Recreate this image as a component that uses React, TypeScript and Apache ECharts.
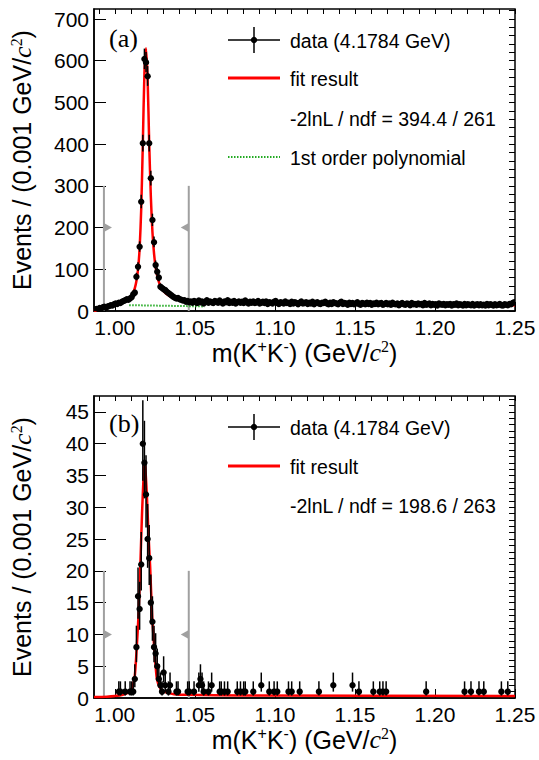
import React, { useEffect, useRef } from "react";
import * as echarts from "echarts";

// ---------- binning ----------
const binStart = 0.987;
const binWidth = 0.001;
const xMin = 0.987;
const xMax = 1.25;

// ---------- axis ticks ----------
const majorX = [1.0, 1.05, 1.1, 1.15, 1.2, 1.25];
const minorX = [0.99, 1.0, 1.01, 1.02, 1.03, 1.04, 1.05, 1.06, 1.07, 1.08, 1.09, 1.1, 1.11, 1.12, 1.13, 1.14, 1.15, 1.16, 1.17, 1.18, 1.19, 1.2, 1.21, 1.22, 1.23, 1.24, 1.25];
const majorYA = [0, 100, 200, 300, 400, 500, 600, 700];
const minorYA = [0, 20, 40, 60, 80, 100, 120, 140, 160, 180, 200, 220, 240, 260, 280, 300, 320, 340, 360, 380, 400, 420, 440, 460, 480, 500, 520, 540, 560, 580, 600, 620, 640, 660, 680, 700, 720];
const majorYB = [0, 5, 10, 15, 20, 25, 30, 35, 40, 45];
const minorYB = [0, 1, 2, 3, 4, 5, 6, 7, 8, 9, 10, 11, 12, 13, 14, 15, 16, 17, 18, 19, 20, 21, 22, 23, 24, 25, 26, 27, 28, 29, 30, 31, 32, 33, 34, 35, 36, 37, 38, 39, 40, 41, 42, 43, 44, 45, 46, 47];
const yMaxA = 724;
const yMaxB = 47.5;

// ---------- panel (a) data: counts per 1 MeV bin ----------
const countsA = [
  3, 5, 4, 7, 6, 9, 10, 8, 11, 12, 14, 13, 16, 18, 17, 20, 19, 22, 24, 26, 28, 27, 30, 33, 40, 44,
  82, 106, 154, 262, 402, 604, 596, 563, 402, 318, 218, 165, 110, 94, 80,
  58, 55, 52, 50, 46, 43, 40, 37, 34, 32, 30, 31, 28, 27, 25, 26, 22, 24, 21, 23,
  20, 24, 22, 19, 25, 21, 23, 18, 22, 26, 20, 23, 21, 19, 24, 22, 20, 25, 21, 18,
  23, 21, 26, 19, 22, 20, 24, 18, 21, 23, 20, 22, 19, 25, 21, 18, 22, 20, 23, 19,
  21, 24, 18, 20, 22, 19, 23, 17, 21, 20, 18, 22, 24, 19, 17, 21, 20, 18, 23, 19,
  20, 17, 22, 18, 21, 19, 16, 20, 23, 18, 19, 21, 17, 20, 18, 22, 16, 19, 21, 18,
  17, 20, 19, 22, 18, 16, 20, 17, 21, 19, 18, 16, 20, 22, 17, 19, 18, 15, 20, 17,
  19, 16, 18, 21, 17, 15, 19, 18, 16, 20, 17, 19, 15, 18, 17, 20, 16, 18, 19, 15,
  17, 19, 16, 18, 15, 20, 17, 16, 18, 14, 17, 19, 16, 15, 18, 17, 14, 19, 16, 17,
  15, 18, 16, 17, 14, 19, 15, 16, 18, 14, 17, 15, 16, 13, 18, 16, 15, 17, 14, 16,
  15, 17, 13, 16, 15, 18, 14, 16, 15, 13, 17, 14, 16, 15, 14, 17, 13, 15, 16, 14,
  16, 14, 15, 13, 17, 14, 16, 15, 13, 16, 14, 15, 17, 14, 13, 16, 15, 14, 17, 16, 19, 21,
];

// fit result (a): mass, events
const fitMassA = [0.987, 0.989, 0.992, 0.995, 0.998, 1.001, 1.004, 1.007, 1.009, 1.011, 1.0125, 1.0135, 1.0145, 1.0155, 1.0165, 1.0175, 1.0185, 1.0195, 1.0205, 1.0215, 1.0225, 1.0235, 1.0245, 1.0255, 1.027, 1.029, 1.031, 1.034, 1.038, 1.043, 1.05, 1.06, 1.08, 1.1, 1.15, 1.2, 1.25];
const fitValA = [0, 3, 6, 9, 12, 15, 19, 24, 30, 40, 55, 72, 100, 150, 245, 400, 570, 630, 555, 400, 275, 190, 138, 105, 76, 56, 45, 36, 29, 25, 22, 20, 18.5, 17.5, 16, 14.5, 13.5];

// 1st order polynomial background (a)
const polyMassA = [1.009, 1.056];
const polyValA = [14, 11];

// ---------- panel (b) data: non-empty bins ----------
const binsB = [15, 16, 19, 22, 23, 24, 25, 26, 27, 28, 29, 30, 31, 32, 33, 34, 35, 36, 37, 38, 39, 40, 41, 42, 43, 44, 46, 47, 51, 52, 58, 59, 62, 65, 66, 67, 68, 71, 73, 78, 79, 81, 83, 89, 91, 93, 94, 99, 104, 109, 112, 114, 121, 123, 128, 140, 149, 161, 165, 174, 178, 180, 182, 207, 231, 235, 240, 243, 254, 258];
const countsB = [1, 1, 1, 1, 1, 1, 3, 8, 16, 14, 21, 40, 37, 32, 25, 22, 15, 12, 8, 7, 5, 3, 2, 1, 4, 2, 1, 2, 1, 1, 1, 1, 1, 2, 3, 2, 1, 1, 2, 1, 1, 1, 1, 1, 1, 1, 1, 1, 2, 1, 1, 1, 1, 1, 1, 1, 2, 2, 1, 1, 1, 1, 1, 1, 1, 1, 1, 1, 1, 1];

const fitMassB = [0.987, 0.995, 1.0, 1.005, 1.008, 1.01, 1.0115, 1.0125, 1.0136, 1.0148, 1.0159, 1.017, 1.018, 1.0185, 1.019, 1.02, 1.021, 1.0221, 1.0233, 1.0246, 1.0255, 1.0263, 1.028, 1.03, 1.033, 1.037, 1.045, 1.08, 1.25];
const fitValB = [0.15, 0.2, 0.3, 0.5, 0.8, 1.2, 2.2, 3.5, 7.5, 13, 20.5, 29, 35, 36.8, 36.3, 32, 26, 20.5, 13, 8, 5, 3, 1.7, 1.1, 0.8, 0.6, 0.5, 0.4, 0.3];

// signal window cuts
const cutMass = [0.9932, 1.0462];
const cutDir = [1, -1];
const cutTopA = 300;
const cutArrowA = 200;
const cutTopB = 20;
const cutArrowB = 10;

const SANS = '"Liberation Sans", Arial, Helvetica, sans-serif';
const SERIF = '"Liberation Serif", "Times New Roman", serif';

function poissonBand(n: number): [number, number] {
  const s = Math.sqrt(n + 0.25);
  return [n + 0.5 - s, n + 0.5 + s];
}

const dataA = countsA.map((n, i) => {
  const [lo, hi] = poissonBand(n);
  return [binStart + binWidth * (i + 0.5), n, lo, hi];
});
const dataB = binsB.map((b, k) => {
  const n = countsB[k];
  const [lo, hi] = poissonBand(n);
  return [binStart + binWidth * (b + 0.5), n, lo, hi];
});

function renderPoint(params: any, api: any) {
  const x = api.value(0);
  const y = api.value(1);
  const lo = api.value(2);
  const hi = api.value(3);
  const c = api.coord([x, y]);
  const cl = api.coord([x, lo]);
  const ch = api.coord([x, hi]);
  const xl = api.coord([x - binWidth / 2, y]);
  const xr = api.coord([x + binWidth / 2, y]);
  return {
    type: "group",
    children: [
      { type: "line", shape: { x1: c[0], y1: cl[1], x2: c[0], y2: ch[1] }, style: { stroke: "#000", lineWidth: 1.5 } },
      { type: "line", shape: { x1: xl[0], y1: c[1], x2: xr[0], y2: c[1] }, style: { stroke: "#000", lineWidth: 1.5 } },
      { type: "circle", shape: { cx: c[0], cy: c[1], r: 3.2 }, style: { fill: "#000" } },
    ],
  };
}

function renderCut(params: any, api: any) {
  const x = api.value(0);
  const top = api.value(1);
  const arrowY = api.value(2);
  const dir = api.value(3);
  const p0 = api.coord([x, 0]);
  const p1 = api.coord([x, top]);
  const pa = api.coord([x, arrowY]);
  return {
    type: "group",
    children: [
      { type: "line", shape: { x1: p0[0], y1: p0[1], x2: p1[0], y2: p1[1] }, style: { stroke: "#a0a0a0", lineWidth: 2 } },
      {
        type: "polygon",
        shape: { points: [[pa[0], pa[1] - 4.5], [pa[0] + dir * 8, pa[1]], [pa[0], pa[1] + 4.5]] },
        style: { fill: "#a0a0a0" },
      },
    ],
  };
}

const TITLE_SIZE = 25;
const axisTitleRich = {
  sup: { fontSize: 16, fontFamily: SANS, color: "#000", verticalAlign: "top", padding: [0, 0, 12, 0] },
  it: { fontSize: TITLE_SIZE + 1, fontFamily: SERIF, fontStyle: "italic", color: "#000" },
  sup2: { fontSize: 16, fontFamily: SERIF, color: "#000", verticalAlign: "top", padding: [0, 0, 12, 0] },
};

function xAxes(gridIndex: number) {
  return [
    {
      type: "value",
      gridIndex,
      min: xMin,
      max: xMax,
      axisLine: { show: true, onZero: false, lineStyle: { color: "#000", width: 1.5 } },
      axisTick: { show: true, inside: true, length: 9, customValues: majorX, lineStyle: { color: "#000", width: 1 } },
      axisLabel: {
        show: true,
        customValues: majorX,
        margin: 6,
        fontSize: 21,
        fontFamily: SANS,
        color: "#000",
        formatter: (v: number) => v.toFixed(2),
      },
      splitLine: { show: false },
      name: "m(K{sup|+}K{sup|-}) (GeV/{it|c}{sup2|2})",
      nameLocation: "middle",
      nameGap: 26,
      nameTextStyle: { fontSize: TITLE_SIZE, fontFamily: SANS, color: "#000", rich: axisTitleRich },
    },
    {
      type: "value",
      gridIndex,
      min: xMin,
      max: xMax,
      axisLine: { show: false, onZero: false },
      axisTick: { show: true, inside: true, length: 5, customValues: minorX, lineStyle: { color: "#000", width: 1 } },
      axisLabel: { show: false },
      splitLine: { show: false },
    },
  ];
}

function yAxes(gridIndex: number, max: number, major: number[], minor: number[]) {
  return [
    {
      type: "value",
      gridIndex,
      min: 0,
      max,
      axisLine: { show: true, onZero: false, lineStyle: { color: "#000", width: 1.5 } },
      axisTick: { show: true, inside: true, length: 12, customValues: major, lineStyle: { color: "#000", width: 1 } },
      axisLabel: { show: true, customValues: major, margin: 5, fontSize: 21, fontFamily: SANS, color: "#000" },
      splitLine: { show: false },
      name: "Events / (0.001 GeV/{it|c}{sup2|2})",
      nameLocation: "middle",
      nameGap: 58,
      nameTextStyle: { fontSize: TITLE_SIZE, fontFamily: SANS, color: "#000", rich: axisTitleRich },
    },
    {
      type: "value",
      gridIndex,
      min: 0,
      max,
      axisLine: { show: false, onZero: false },
      axisTick: { show: true, inside: true, length: 6, customValues: minor, lineStyle: { color: "#000", width: 1 } },
      axisLabel: { show: false },
      splitLine: { show: false },
    },
  ];
}

const LEG_FONT = `19.5px ${SANS}`;

function legendGraphics(yData: number, yFit: number, yChi: number, chiText: string, yPoly: number | null) {
  const items: any[] = [
    { type: "line", shape: { x1: 228, y1: yData, x2: 280, y2: yData }, style: { stroke: "#000", lineWidth: 1.5 } },
    { type: "line", shape: { x1: 254, y1: yData - 13, x2: 254, y2: yData + 13 }, style: { stroke: "#000", lineWidth: 1.5 } },
    { type: "circle", shape: { cx: 254, cy: yData, r: 3.2 }, style: { fill: "#000" } },
    { type: "text", x: 290, y: yData + 1, style: { text: "data (4.1784 GeV)", font: LEG_FONT, fill: "#000", verticalAlign: "middle" } },
    { type: "line", shape: { x1: 228, y1: yFit, x2: 280, y2: yFit }, style: { stroke: "#ff0000", lineWidth: 3 } },
    { type: "text", x: 290, y: yFit + 1, style: { text: "fit result", font: LEG_FONT, fill: "#000", verticalAlign: "middle" } },
    { type: "text", x: 290, y: yChi, style: { text: chiText, font: LEG_FONT, fill: "#000", verticalAlign: "middle" } },
  ];
  if (yPoly !== null) {
    items.push({ type: "line", shape: { x1: 228, y1: yPoly, x2: 280, y2: yPoly }, style: { stroke: "#22aa22", lineWidth: 2, lineDash: [1.5, 1.5] } });
    items.push({ type: "text", x: 290, y: yPoly + 1, style: { text: "1st order polynomial", font: LEG_FONT, fill: "#000", verticalAlign: "middle" } });
  }
  return items;
}

export default function App() {
  const ref = useRef<HTMLDivElement>(null);
  useEffect(() => {
    if (!ref.current) return;
    const chart = echarts.init(ref.current, undefined, { renderer: "svg" });
    const fitA = fitMassA.map((m, i) => [m, fitValA[i]]);
    const fitB = fitMassB.map((m, i) => [m, fitValB[i]]);
    const polyA = polyMassA.map((m, i) => [m, polyValA[i]]);
    const cutsA = cutMass.map((m, i) => [m, cutTopA, cutArrowA, cutDir[i]]);
    const cutsB = cutMass.map((m, i) => [m, cutTopB, cutArrowB, cutDir[i]]);

    chart.setOption({
      animation: false,
      backgroundColor: "#fff",
      grid: [
        { left: 93, top: 9, width: 422, height: 302, show: true, borderColor: "#000", borderWidth: 1.5, backgroundColor: "transparent" },
        { left: 93, top: 396, width: 422, height: 302, show: true, borderColor: "#000", borderWidth: 1.5, backgroundColor: "transparent" },
      ],
      xAxis: [...xAxes(0), ...xAxes(1)],
      yAxis: [...yAxes(0, yMaxA, majorYA, minorYA), ...yAxes(1, yMaxB, majorYB, minorYB)],
      series: [
        { type: "custom", xAxisIndex: 0, yAxisIndex: 0, renderItem: renderCut, data: cutsA, z: 1, silent: true },
        { type: "line", xAxisIndex: 0, yAxisIndex: 0, data: polyA, symbol: "none", lineStyle: { color: "#22aa22", width: 2, type: [1.5, 1.5] }, z: 2, silent: true },
        { type: "line", xAxisIndex: 0, yAxisIndex: 0, data: fitA, symbol: "none", smooth: 0.25, lineStyle: { color: "#ff0000", width: 2.5 }, z: 3, silent: true },
        { type: "custom", xAxisIndex: 0, yAxisIndex: 0, renderItem: renderPoint, data: dataA, clip: true, z: 4, silent: true },

        { type: "custom", xAxisIndex: 2, yAxisIndex: 2, renderItem: renderCut, data: cutsB, z: 1, silent: true },
        { type: "line", xAxisIndex: 2, yAxisIndex: 2, data: fitB, symbol: "none", smooth: 0.25, lineStyle: { color: "#ff0000", width: 2.5 }, z: 3, silent: true },
        { type: "custom", xAxisIndex: 2, yAxisIndex: 2, renderItem: renderPoint, data: dataB, clip: true, z: 4, silent: true },
      ],
      graphic: [
        { type: "text", x: 109, y: 38, style: { text: "(a)", font: `26px ${SERIF}`, fill: "#000", verticalAlign: "middle" } },
        { type: "text", x: 109, y: 423, style: { text: "(b)", font: `26px ${SERIF}`, fill: "#000", verticalAlign: "middle" } },
        ...legendGraphics(40, 78, 119, "-2lnL / ndf = 394.4 / 261", 157),
        ...legendGraphics(427, 466, 506, "-2lnL / ndf = 198.6 / 263", null),
      ],
    });
    return () => chart.dispose();
  }, []);
  return <div ref={ref} style={{ position: "fixed", left: 0, top: 0, width: 539, height: 760 }} />;
}
